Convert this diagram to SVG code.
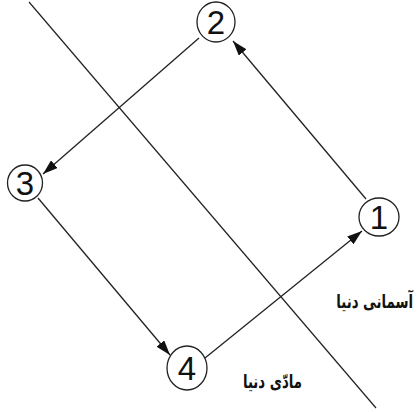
<svg xmlns="http://www.w3.org/2000/svg" width="418" height="412" viewBox="0 0 418 412">
<style>
.node ellipse{fill:#fff;stroke:#222;stroke-width:1.3}
.node text{font-family:"Liberation Sans",Arial,sans-serif;font-size:33px;fill:#111;text-anchor:middle}
.conn line{stroke:#222;stroke-width:1.3;fill:none}
.lbl{font-family:"DejaVu Sans",sans-serif;font-size:19px;font-weight:bold;fill:#111;text-anchor:end}
</style>
<defs>
<marker id="ah" viewBox="0 0 15 10" refX="15" refY="5" markerWidth="15" markerHeight="10" markerUnits="userSpaceOnUse" orient="auto">
<path d="M0,0 L15,5 L0,10 Z" fill="#111"/>
</marker>
</defs>
<line x1="29" y1="2" x2="376" y2="408" stroke="#222" stroke-width="1.2"/>
<g id="connectors" class="conn">
<line x1="366" y1="199" x2="233" y2="41" marker-end="url(#ah)"/>
<line x1="199" y1="38" x2="43" y2="174" marker-end="url(#ah)"/>
<line x1="38" y1="198" x2="170" y2="355" marker-end="url(#ah)"/>
<line x1="205" y1="358" x2="362" y2="231" marker-end="url(#ah)"/>
</g>
<g id="node1" class="node"><ellipse cx="379" cy="217" rx="20" ry="19"/><text x="379" y="229">1</text></g>
<g id="node2" class="node"><ellipse cx="216" cy="22" rx="19" ry="20"/><text x="216" y="34">2</text></g>
<g id="node3" class="node"><ellipse cx="25" cy="183" rx="17.5" ry="18"/><text x="25" y="195">3</text></g>
<g id="node4" class="node"><ellipse cx="187" cy="368" rx="20" ry="22"/><text x="187" y="380">4</text></g>
<text class="lbl" transform="translate(413,308) scale(0.7,1)">آسمانی دنیا</text>
<text class="lbl" transform="translate(302,388) scale(0.7,1)">مادّی دنیا</text>
</svg>
